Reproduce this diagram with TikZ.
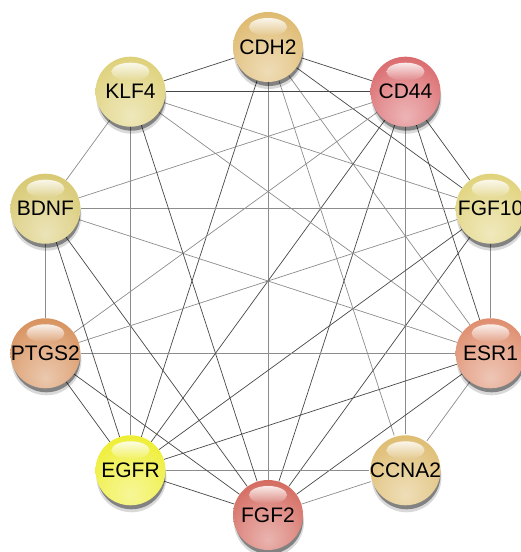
\documentclass[tikz,border=0pt]{standalone}
\usepackage{fontspec}
\setmainfont{Liberation Sans}
\usetikzlibrary{calc}
\pgfdeclarelayer{edgelayer}
\pgfsetlayers{edgelayer,main}
\definecolor{spherebase}{RGB}{200,200,200}
\pgfdeclareradialshading[spherebase]{sphere}{\pgfpoint{0bp}{-18bp}}{%
 color(0bp)=(spherebase!50!white);
 color(18bp)=(spherebase!72!white);
 color(36bp)=(spherebase);
 color(50bp)=(spherebase!82!black);
 color(62bp)=(spherebase!60!black);
 color(80bp)=(spherebase!55!black)}
\definecolor{cKLF}{RGB}{222,208,120}
\definecolor{cCDH}{RGB}{222,185,110}
\definecolor{cCDF}{RGB}{218,105,108}
\definecolor{cFGFten}{RGB}{224,210,122}
\definecolor{cESR}{RGB}{222,140,108}
\definecolor{cCCNA}{RGB}{222,188,112}
\definecolor{cFGFtwo}{RGB}{212,105,95}
\definecolor{cEGFR}{RGB}{238,238,50}
\definecolor{cPTGS}{RGB}{215,145,92}
\definecolor{cBDNF}{RGB}{215,200,112}
\tikzset{
  ballnode/.style={circle, minimum size=70pt, inner sep=0pt, text=black,
    font=\fontsize{21}{24}\selectfont},
  edge/.style={draw=black!45, line width=0.7pt},
  darkedge/.style={draw=black!72, line width=0.7pt}
}
\newcommand\gball[4]{%
  \colorlet{spherebase}{#3}%
  \fill[black, opacity=0.15] ($(#2)+(1,-7)$) circle (35);
  \fill[black, opacity=0.4] ($(#2)+(1,-5)$) circle (34);
  \shade[shading=sphere] (#2) circle (35);
  \shade[top color=white, bottom color=#3!80!white, opacity=0.85] ($(#2)+(0,20)$) ellipse (19 and 9);
  \node[ballnode] (#1) at (#2) {#4};
}
\begin{document}
\begin{tikzpicture}[x=1pt,y=1pt]
\useasboundingbox (0,0) rectangle (520,552);
\gball{CDH2}{268,505}{cCDH}{CDH2}
\gball{CD44}{405.5,460.3}{cCDF}{CD44}
\gball{FGF10}{490.6,343.3}{cFGFten}{FGF10}
\gball{ESR1}{490.6,198.7}{cESR}{ESR1}
\gball{CCNA2}{405.5,81.7}{cCCNA}{CCNA2}
\gball{FGF2}{268,37}{cFGFtwo}{FGF2}
\gball{EGFR}{130.5,81.7}{cEGFR}{EGFR}
\gball{PTGS2}{45.4,198.7}{cPTGS}{PTGS2}
\gball{BDNF}{45.4,343.3}{cBDNF}{BDNF}
\gball{KLF4}{130.5,460.3}{cKLF}{KLF4}
\begin{pgfonlayer}{edgelayer}
% CDH2
\draw[darkedge] (CDH2) -- (KLF4);
\draw[darkedge] (CDH2) -- (CD44);
\draw[darkedge] (CDH2) -- (FGF10);
\draw[edge] (CDH2) -- (ESR1);
\draw[edge] (CDH2) -- (CCNA2);
\draw[edge] (CDH2) -- (FGF2);
\draw[darkedge] (CDH2) -- (EGFR);
% CD44
\draw[darkedge] (CD44) -- (KLF4);
\draw[edge] (CD44) -- (BDNF);
\draw[darkedge] (CD44) -- (EGFR);
\draw[darkedge] (CD44) -- (FGF2);
\draw[edge] (CD44) -- (CCNA2);
\draw[darkedge] (CD44) -- (ESR1);
\draw[darkedge] (CD44) -- (FGF10);
\draw[edge] (CD44) -- (PTGS2);
% FGF10
\draw[edge] (FGF10) -- (KLF4);
\draw[edge] (FGF10) -- (BDNF);
\draw[edge] (FGF10) -- (PTGS2);
\draw[darkedge] (FGF10) -- (EGFR);
\draw[darkedge] (FGF10) -- (FGF2);
\draw[edge] (FGF10) -- (ESR1);
% ESR1
\draw[edge] (ESR1) -- (KLF4);
\draw[edge] (ESR1) -- (BDNF);
\draw[edge] (ESR1) -- (PTGS2);
\draw[darkedge] (ESR1) -- (EGFR);
\draw[darkedge] (ESR1) -- (FGF2);
\draw[edge] (ESR1) -- (CCNA2);
% CCNA2
\draw[edge] (CCNA2) -- (FGF2);
\draw[edge] (CCNA2) -- (EGFR);
% FGF2
\draw[darkedge] (FGF2) -- (KLF4);
\draw[darkedge] (FGF2) -- (BDNF);
\draw[darkedge] (FGF2) -- (PTGS2);
\draw[darkedge] (FGF2) -- (EGFR);
% EGFR
\draw[darkedge] (EGFR) -- (PTGS2);
\draw[darkedge] (EGFR) -- (BDNF);
\draw[edge] (EGFR) -- (KLF4);
% others
\draw[edge] (PTGS2) -- (BDNF);
\draw[edge] (BDNF) -- (KLF4);
\end{pgfonlayer}
\end{tikzpicture}
\end{document}
